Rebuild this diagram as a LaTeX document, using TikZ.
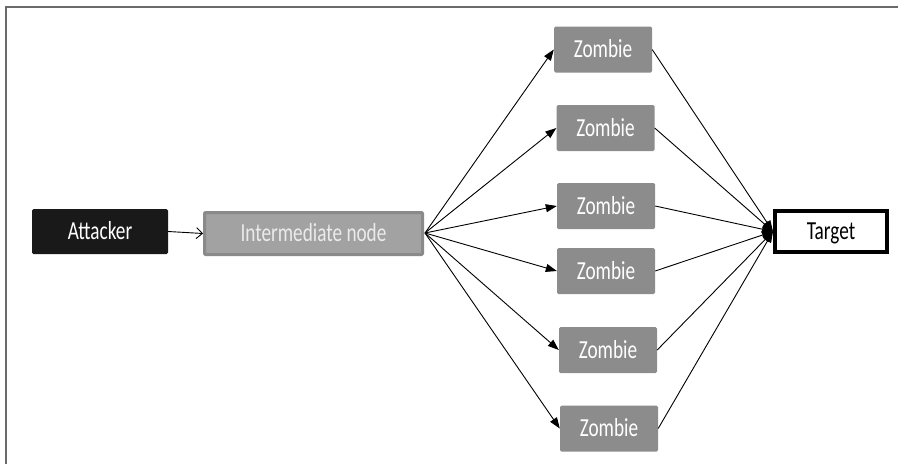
\documentclass[tikz,border=0pt]{standalone}
\usepackage{fontspec}
\setmainfont{Carlito}[FakeStretch=0.74]
\usetikzlibrary{arrows.meta}
\definecolor{zgray}{HTML}{8C8C8C}
\definecolor{igray}{HTML}{A2A2A2}
\definecolor{iborder}{HTML}{8A8A8A}
\definecolor{framegray}{HTML}{6A6A6A}
\begin{document}
\begin{tikzpicture}[x=1pt,y=-1pt,
  box/.style={rectangle,inner sep=0pt,font=\fontsize{26}{28}\selectfont,text height=16.5pt,text depth=0pt},
  zombie/.style={box,fill=zgray,rounded corners=1.5pt,minimum width=98pt,minimum height=46pt,text=white},
  attacker/.style={box,fill=black!90,rounded corners=1.5pt,minimum width=136pt,minimum height=45pt,text=white},
  inter/.style={box,fill=igray,draw=iborder,line width=3pt,rounded corners=1pt,minimum width=218pt,minimum height=42pt,text=white!92!black},
  target/.style={box,fill=white,draw=black,line width=3.5pt,minimum width=112pt,minimum height=41pt,text=black},
  link/.style={line width=0.9pt,-{Triangle[length=11pt,width=8pt]}},
  openlink/.style={line width=0.9pt,-{Straight Barb[length=6pt,width=11pt]}}
]
\useasboundingbox (0,0) rectangle (898,464);
\draw[framegray,line width=2pt] (6,464) -- (6,7) -- (898,7);
\node[attacker] (att) at (100,231.5) {Attacker};
\node[inter] (mid) at (313.5,233.5) {Intermediate node};
\node[target] (tgt) at (831,231.5) {Target};
\node[zombie] (z1) at (603,49.5) {Zombie};
\node[zombie] (z2) at (605.5,128) {Zombie};
\node[zombie] (z3) at (606,206) {Zombie};
\node[zombie] (z4) at (606,271) {Zombie};
\node[zombie] (z5) at (608,350) {Zombie};
\node[zombie] (z6) at (609,428.5) {Zombie};
\coordinate (src) at (425,233);
\coordinate (dst) at (773,231.5);
\draw[openlink] (att.east) -- (mid.west);
\foreach \z in {z1,z2,z3,z4,z5,z6}{
  \draw[link] (src) -- (\z.west);
}
\foreach \z in {z1,z2,z3,z4,z5,z6}{
  \draw[link] (\z.east) -- (dst);
}
\end{tikzpicture}
\end{document}
